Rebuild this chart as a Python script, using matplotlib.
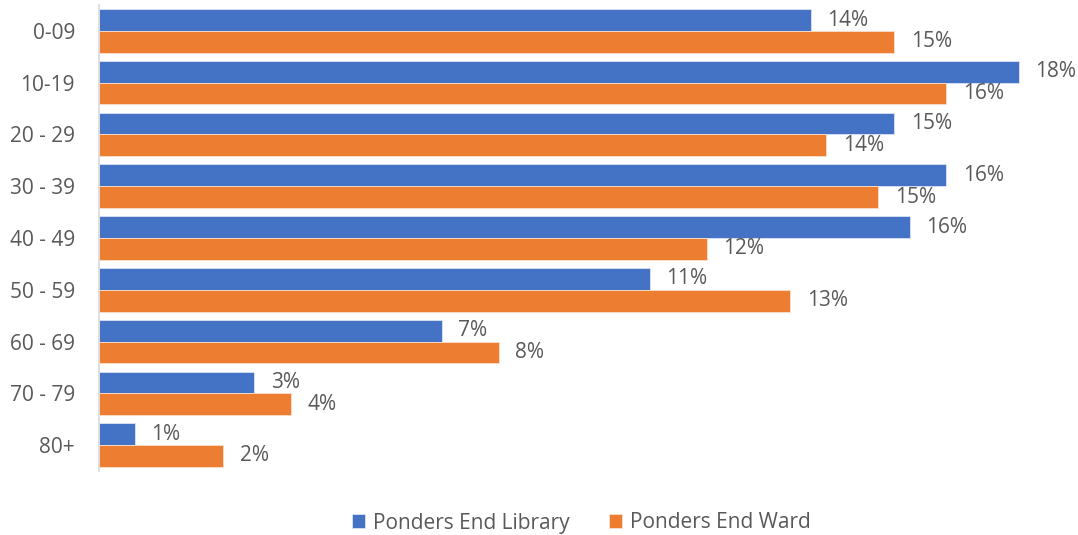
import matplotlib.pyplot as plt
import numpy as np

# Grupos de edad y porcentajes
grupos = ['0-09', '10-19', '20 - 29', '30 - 39', '40 - 49', '50 - 59', '60 - 69', '70 - 79', '80+']
biblioteca = [13.7, 17.7, 15.3, 16.3, 15.6, 10.6, 6.6, 3.0, 0.7]
distrito = [15.3, 16.3, 14.0, 15.0, 11.7, 13.3, 7.7, 3.7, 2.4]
series = ['Ponders End Library', 'Ponders End Ward']

AZUL = '#4472C4'
NARANJA = '#ED7D31'
GRIS = '#595959'

plt.rcParams['font.family'] = ['Open Sans', 'DejaVu Sans']

fig = plt.figure(figsize=(10.78, 5.35), dpi=100)
ax = fig.add_axes([98.5 / 1078, 64 / 535, 967 / 1078, 466 / 535])

y = np.arange(len(grupos))
alto = 0.42
b1 = ax.barh(y - alto / 2, biblioteca, height=alto, color=AZUL, label=series[0],
             edgecolor='#dbe4f5', linewidth=0.6)
b2 = ax.barh(y + alto / 2, distrito, height=alto, color=NARANJA, label=series[1],
             edgecolor='#fbe0cf', linewidth=0.6)

# Etiquetas de valor al final de cada barra
for barras in (b1, b2):
    ax.bar_label(barras, labels=[f'{v:.0f}%' for v in barras.datavalues],
                 padding=12, fontsize=15, color=GRIS, clip_on=False)

ax.set_xlim(0, 18.6)
ax.set_ylim(len(grupos) - 0.5, -0.5)
ax.set_yticks(y)
ax.set_yticklabels(grupos, fontsize=15, color=GRIS)
ax.tick_params(axis='y', length=0, pad=17)
ax.set_xticks([])

for lado in ('top', 'right', 'bottom'):
    ax.spines[lado].set_visible(False)
ax.spines['left'].set_color('#D9D9D9')
ax.spines['left'].set_linewidth(1.2)

ax.legend(loc='center', bbox_to_anchor=(581 / 1078, 12 / 535), bbox_transform=fig.transFigure,
          ncol=2, frameon=False, fontsize=15, labelcolor=GRIS,
          handlelength=0.65, handleheight=0.65, handletextpad=0.35, columnspacing=1.9)

fig.savefig('out.png', dpi=100)
